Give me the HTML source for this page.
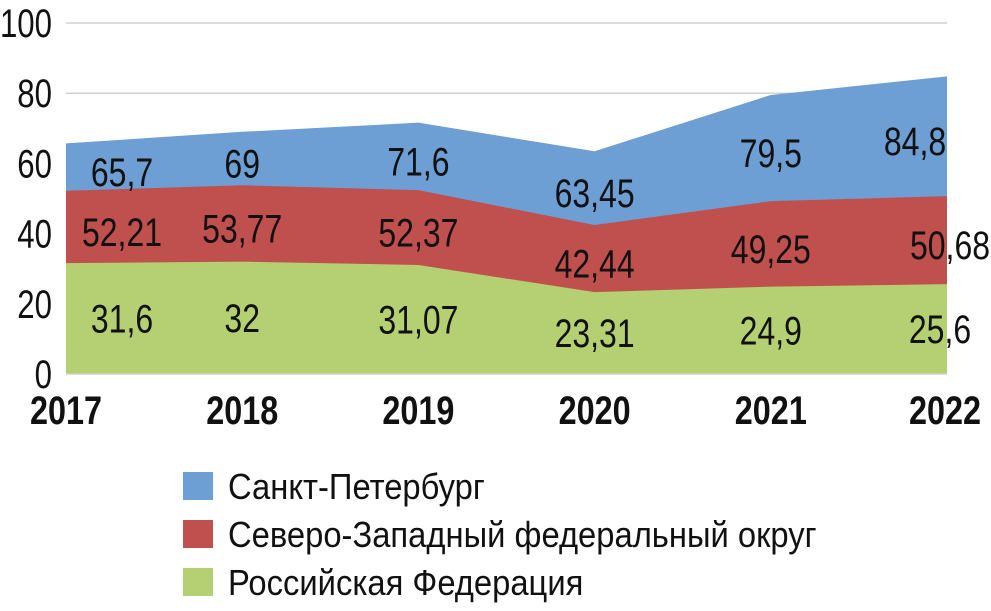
<!DOCTYPE html>
<html><head><meta charset="utf-8"><style>
html,body{margin:0;padding:0;background:#fff;}
svg{display:block;font-family:"Liberation Sans Narrow","Liberation Sans",sans-serif;}
</style></head><body>
<svg id="chart" width="991" height="611"></svg>
<script>
const years = ["2017","2018","2019","2020","2021","2022"];
const spb = [65.7, 69, 71.6, 63.45, 79.5, 84.8];
const nwfd = [52.21, 53.77, 52.37, 42.44, 49.25, 50.68];
const rf = [31.6, 32, 31.07, 23.31, 24.9, 25.6];
const spbLabels = ["65,7","69","71,6","63,45","79,5","84,8"];
const nwfdLabels = ["52,21","53,77","52,37","42,44","49,25","50,68"];
const rfLabels = ["31,6","32","31,07","23,31","24,9","25,6"];
const yTicks = [0,20,40,60,80,100];
const seriesNames = ["Санкт-Петербург","Северо-Западный федеральный округ","Российская Федерация"];

const NS="http://www.w3.org/2000/svg";
const svg=document.getElementById('chart');
const x0=66,x1=947,yb=374,yt=23;
const xs=i=>x0+(x1-x0)*i/(years.length-1);
const ys=v=>yb-(yb-yt)*v/100;
function el(t,a){const e=document.createElementNS(NS,t);for(const k in a)e.setAttribute(k,a[k]);svg.appendChild(e);return e;}
function txt(x,y,s,size,sx,anchor,weight){
  const t=el('text',{x:0,y:0,transform:'translate('+x+','+y+') scale('+sx+',1)','text-anchor':anchor,'font-size':size,'font-weight':weight||'normal',fill:'#111'});
  t.textContent=s;return t;
}

yTicks.forEach(v=>{
  if(v>0){const g=el('line',{x1:x0,x2:x1,y1:ys(v),y2:ys(v),stroke:'#d0d0d0','stroke-width':1.5});
  
  }
  const t=txt(52,ys(v)+14,String(v),40,0.78,'end');
  
  
});

const colors=['#6d9fd4','#c0504d','#b4d072'];
const data=[spb,nwfd,rf];
const names=['area-spb','area-nwfd','area-rf'];
data.forEach((s,k)=>{
  let d='M'+xs(0)+','+yb;
  s.forEach((v,i)=>{d+=' L'+xs(i)+','+ys(v);});
  d+=' L'+xs(s.length-1)+','+yb+' Z';
  const p=el('path',{d:d,fill:colors[k]});
  
  
});
const ax=el('line',{x1:x0,x2:x1,y1:yb,y2:yb,stroke:'#d0d0d0','stroke-width':1.5});



const labs=[spbLabels,nwfdLabels,rfLabels];
labs.forEach((L,k)=>{
  L.forEach((s,i)=>{
    const top=ys(data[k][i]);
    const low=k<2?ys(data[k+1][i]):yb;
    const cy=(top+low)/2+(k<2?5:0);
    let cx=Math.max(xs(i),122);
    if(i===L.length-1) cx = k===0?915:(k===1?950:940);
    const t=txt(cx,cy+14,s,40,0.8,'middle');
    
    
  });
});

years.forEach((y,i)=>{
  const cx=Math.min(Math.max(xs(i),66),945);
  const t=txt(cx,424,y,40,0.81,'middle','bold');
  
  
});

seriesNames.forEach((n,k)=>{
  const y=472+k*48;
  const r=el('rect',{x:183,y:y,width:30,height:28,fill:colors[k]});
  
  
  const t=txt(228,y+27,n,36,0.91,'start');
  
  
});
</script>
</body></html>
